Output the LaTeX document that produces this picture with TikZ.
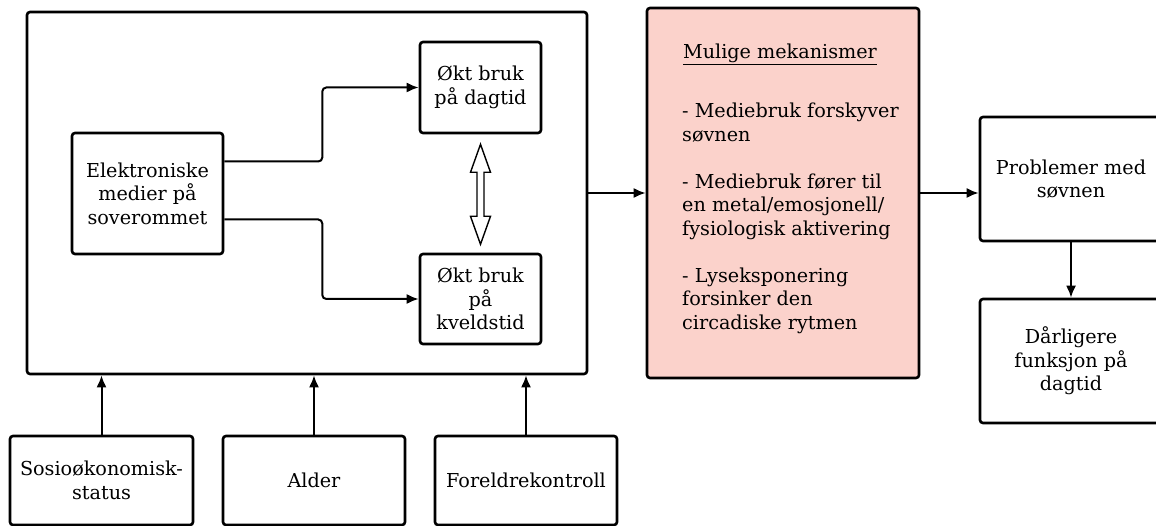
\documentclass[tikz,border=0pt]{standalone}
\usepackage{fontspec}
\setmainfont{DejaVu Serif}
\usetikzlibrary{arrows.meta}
\definecolor{mechpink}{RGB}{251,210,203}
\tikzset{
  box/.style={draw, line width=2.6pt, rounded corners=3pt, align=center,
    inner sep=2pt, font=\fontsize{19.2}{23.5}\selectfont},
  arr/.style={line width=2pt, -{Latex[length=12pt,width=10pt]}},
  hollow/.style={line width=1.4pt, fill=white, line join=miter},
}
\begin{document}
\begin{tikzpicture}[x=1pt,y=-1pt]
    \useasboundingbox (0,0) rectangle (1156,526);
    % media use at home
    \node[box, minimum width=560pt, minimum height=362pt] (home) at (307,193) {};
    \node[box, minimum width=151pt, minimum height=121pt] (media) at (147.5,193.5)
      {Elektroniske\\medier på\\soverommet};
    \node[box, minimum width=121pt, minimum height=91pt] (day) at (480.5,87.5)
      {Økt bruk\\på dagtid};
    \node[box, minimum width=121pt, minimum height=90pt] (evening) at (480.5,299)
      {Økt bruk\\på\\kveldstid};
    \draw[arr, rounded corners=4pt] ([yshift=32pt]media.east) -- ++(98,0) |- (day.west);
    \draw[arr, rounded corners=4pt] ([yshift=-26pt]media.east) -- ++(98,0) |- (evening.west);
    \draw[hollow] ([yshift=-10pt]day.south) -- ++(10,28) -- ++(-6.5,0) -- ++(0,44)
      -- ++(6.5,0) -- ++(-10,28) -- ++(-10,-28) -- ++(6.5,0) -- ++(0,-44)
      -- ++(-6.5,0) -- cycle;
    % mechanisms
    \node[box, fill=mechpink, minimum width=272pt, minimum height=370pt] (mech) at (783,193) {};
    \node[font=\fontsize{19.2}{23.5}\selectfont, inner sep=0pt, anchor=base] (mechtitle)
      at (780,59) {\underline{Mulige mekanismer}};
    \node[font=\fontsize{19.2}{23.5}\selectfont, inner sep=0pt, anchor=north west,
      align=left] (mechlist) at (682,103)
      {- Mediebruk forskyver\\søvnen\\[23.5pt]
       - Mediebruk fører til\\en metal/emosjonell/\\fysiologisk aktivering\\[23.5pt]
       - Lyseksponering\\forsinker den\\circadiske rytmen};
    % outcomes
    \node[box, minimum width=182pt, minimum height=124pt] (sleep) at (1071,179)
      {Problemer med\\søvnen};
    \node[box, minimum width=182pt, minimum height=124pt] (daytime) at (1071,361)
      {Dårligere\\funksjon på\\dagtid};
    \draw[arr] (home.east) -- (mech.west);
    \draw[arr] (mech.east) -- (mech.east -| sleep.west);
    \draw[arr] (sleep.south) -- (daytime.north);
    % background factors
    \node[box, minimum width=183pt, minimum height=89pt] (ses) at (101.5,480.5)
      {Sosioøkonomisk-\\status};
    \node[box, minimum width=182pt, minimum height=89pt] (age) at (314,480.5) {Alder};
    \node[box, minimum width=182pt, minimum height=89pt] (parents) at (526,480.5)
      {Foreldrekontroll};
    \foreach \f in {ses,age,parents}
      \draw[arr] (\f.north) -- (\f.north |- home.south);
\end{tikzpicture}
\end{document}
